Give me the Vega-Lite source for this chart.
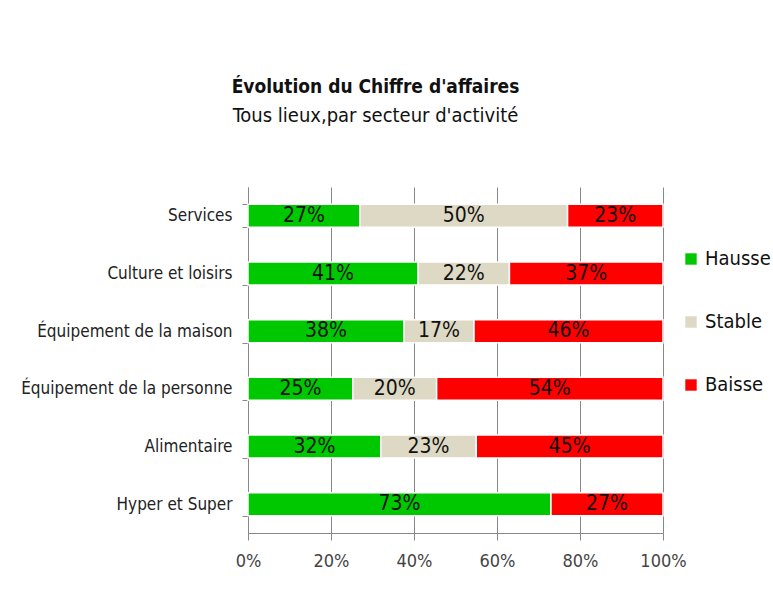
{
  "$schema": "https://vega.github.io/schema/vega-lite/v6.json",
  "width": 415,
  "height": 346,
  "autosize": "none",
  "padding": {"left": 248, "top": 187, "right": 110, "bottom": 72},
  "background": "white",
  "config": {
    "font": "DejaVu Sans Condensed, sans-serif",
    "view": {"stroke": null}
  },
  "title": {
    "text": "Évolution du Chiffre d'affaires",
    "subtitle": "Tous lieux,par secteur d'activité",
    "anchor": "middle",
    "dx": -80,
    "offset": 52,
    "fontSize": 19,
    "fontWeight": "bold",
    "color": "#111",
    "subtitleFontSize": 20,
    "subtitleColor": "#111",
    "subtitlePadding": 9,
    "font": "DejaVu Sans Condensed, sans-serif",
    "subtitleFont": "DejaVu Sans Condensed, sans-serif"
  },
  "data": {
    "values": [
      {"secteur": "Services", "statut": "Hausse", "ordre": 1, "valeur": 0.27},
      {"secteur": "Services", "statut": "Stable", "ordre": 2, "valeur": 0.50},
      {"secteur": "Services", "statut": "Baisse", "ordre": 3, "valeur": 0.23},
      {"secteur": "Culture et loisirs", "statut": "Hausse", "ordre": 1, "valeur": 0.41},
      {"secteur": "Culture et loisirs", "statut": "Stable", "ordre": 2, "valeur": 0.22},
      {"secteur": "Culture et loisirs", "statut": "Baisse", "ordre": 3, "valeur": 0.37},
      {"secteur": "Équipement de la maison", "statut": "Hausse", "ordre": 1, "valeur": 0.38},
      {"secteur": "Équipement de la maison", "statut": "Stable", "ordre": 2, "valeur": 0.17},
      {"secteur": "Équipement de la maison", "statut": "Baisse", "ordre": 3, "valeur": 0.46},
      {"secteur": "Équipement de la personne", "statut": "Hausse", "ordre": 1, "valeur": 0.25},
      {"secteur": "Équipement de la personne", "statut": "Stable", "ordre": 2, "valeur": 0.20},
      {"secteur": "Équipement de la personne", "statut": "Baisse", "ordre": 3, "valeur": 0.54},
      {"secteur": "Alimentaire", "statut": "Hausse", "ordre": 1, "valeur": 0.32},
      {"secteur": "Alimentaire", "statut": "Stable", "ordre": 2, "valeur": 0.23},
      {"secteur": "Alimentaire", "statut": "Baisse", "ordre": 3, "valeur": 0.45},
      {"secteur": "Hyper et Super", "statut": "Hausse", "ordre": 1, "valeur": 0.73},
      {"secteur": "Hyper et Super", "statut": "Baisse", "ordre": 3, "valeur": 0.27}
    ]
  },
  "encoding": {
    "y": {
      "field": "secteur",
      "type": "nominal",
      "sort": ["Services", "Culture et loisirs", "Équipement de la maison", "Équipement de la personne", "Alimentaire", "Hyper et Super"],
      "scale": {"paddingInner": 0.6, "paddingOuter": 0.3},
      "axis": {
        "title": null,
        "domainColor": "#888",
        "tickColor": "#888",
        "tickSize": 6,
        "tickBand": "extent",
        "labelFontSize": 17,
        "labelColor": "#222",
        "labelPadding": 10,
        "labelLimit": 400,
        "grid": false
      }
    },
    "x": {
      "field": "valeur",
      "type": "quantitative",
      "stack": "normalize",
      "scale": {"domain": [0, 1]},
      "axis": {
        "title": null,
        "format": ".0%",
        "values": [0, 0.2, 0.4, 0.6, 0.8, 1],
        "grid": true,
        "gridColor": "#888",
        "gridOpacity": 1,
        "domainColor": "#888",
        "tickColor": "#888",
        "tickSize": 7,
        "labelFontSize": 18,
        "labelColor": "#444",
        "labelPadding": 12,
        "labelFlush": false
      }
    },
    "order": {"field": "ordre", "type": "quantitative"}
  },
  "layer": [
    {
      "mark": {"type": "bar", "stroke": "white", "strokeWidth": 1.5},
      "encoding": {
        "color": {
          "field": "statut",
          "type": "nominal",
          "scale": {"domain": ["Hausse", "Stable", "Baisse"], "range": ["#00C800", "#DDD9C4", "#FF0000"]},
          "legend": {
            "title": null,
            "orient": "none",
            "legendX": 433,
            "legendY": 62,
            "symbolType": "square",
            "symbolSize": 130,
            "symbolStrokeWidth": 0,
            "labelFontSize": 20,
            "labelColor": "#111",
            "labelOffset": 4,
            "labelLimit": 200,
            "rowPadding": 43
          }
        }
      }
    },
    {
      "mark": {"type": "text", "fontSize": 21, "color": "#111", "baseline": "middle"},
      "encoding": {
        "x": {"field": "valeur", "type": "quantitative", "stack": "normalize", "bandPosition": 0.5},
        "text": {"field": "valeur", "type": "quantitative", "format": ".0%"}
      }
    }
  ]
}
